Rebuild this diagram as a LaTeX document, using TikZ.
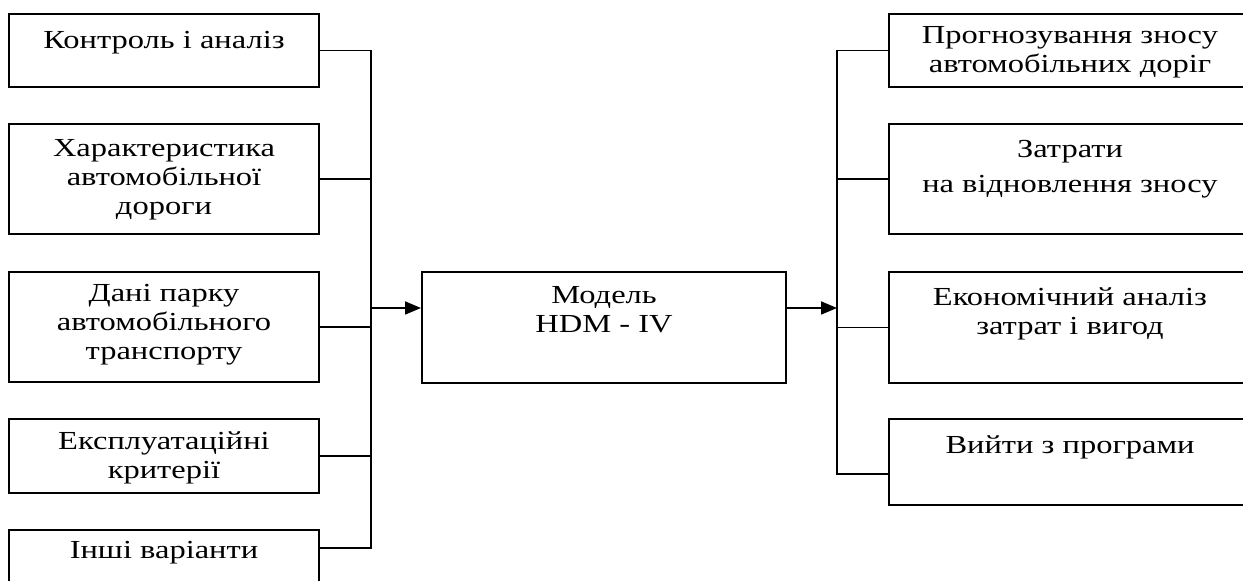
\documentclass[tikz,border=0pt]{standalone}
\usepackage{fontspec}
\setmainfont{Liberation Serif}[FakeStretch=1.25]
\usetikzlibrary{calc,arrows.meta,fit}

\begin{document}
\begin{tikzpicture}[x=0.5pt,y=-0.5pt,
    box/.style={draw, line width=1pt, inner sep=0pt},
    txt/.style={align=center, font=\fontsize{13}{14.5}\selectfont},
    link/.style={line width=0.9pt},
    arr/.style={link, -{Triangle[length=8pt,width=6.5pt]}}]
    \useasboundingbox (0,0) rectangle (1243,581);
    \clip (0,0) rectangle (1243,581);
    % input boxes
    \node[box, fit={(9,14)(319,87)}] (in1) {};
    \node[box, fit={(9,124)(319,234)}] (in2) {};
    \node[box, fit={(9,272)(319,382)}] (in3) {};
    \node[box, fit={(9,419)(319,493)}] (in4) {};
    \node[box, fit={(9,530)(319,600)}] (in5) {};
    \node[txt] (in1t) at (164,43) {Контроль і аналіз};
    \node[txt] (in2t) at (164,180) {Характеристика\\автомобільної\\дороги};
    \node[txt] (in3t) at (164,325) {Дані парку\\автомобільного\\транспорту};
    \node[txt] (in4t) at (164,458) {Експлуатаційні\\критерії};
    \node[txt] (in5t) at (164,553) {Інші варіанти};
    % model
    \node[box, fit={(422,272)(786,383)}] (hdm) {};
    \node[txt] (hdmt) at (604,310) {Модель\\HDM - IV};
    % output boxes
    \node[box, fit={(889,14)(1253,87)}] (out1) {};
    \node[box, fit={(889,124)(1253,234)}] (out2) {};
    \node[box, fit={(889,272)(1253,383)}] (out3) {};
    \node[box, fit={(889,419)(1253,505)}] (out4) {};
    \node[txt] (out1t) at (1070,52) {Прогнозування зносу\\автомобільних доріг};
    \node[txt] (out2t) at (1070,169) {Затрати\\[3pt]на відновлення зносу};
    \node[txt] (out3t) at (1070,314) {Економічний аналіз\\затрат і вигод};
    \node[txt] (out4t) at (1070,447) {Вийти з програми};
    % buses
    \coordinate (lbus) at (371,0);
    \coordinate (rbus) at (837,0);
    \coordinate (flow) at (0,308);
    \foreach \i in {1,...,4}
        \draw[link] (in\i.east) -- (in\i.east -| lbus);
    \draw[link] (in5.east |- 0,548) -| (lbus |- in1.east);
    \foreach \i in {1,...,3}
        \draw[link] (out\i.west) -- (out\i.west -| rbus);
    \draw[link] (out4.west |- 0,474) -| (rbus |- out1.west);
    \draw[arr] (lbus |- flow) -- (hdm.west |- flow);
    \draw[arr] (hdm.east |- flow) -- (rbus |- flow);
\end{tikzpicture}
\end{document}
